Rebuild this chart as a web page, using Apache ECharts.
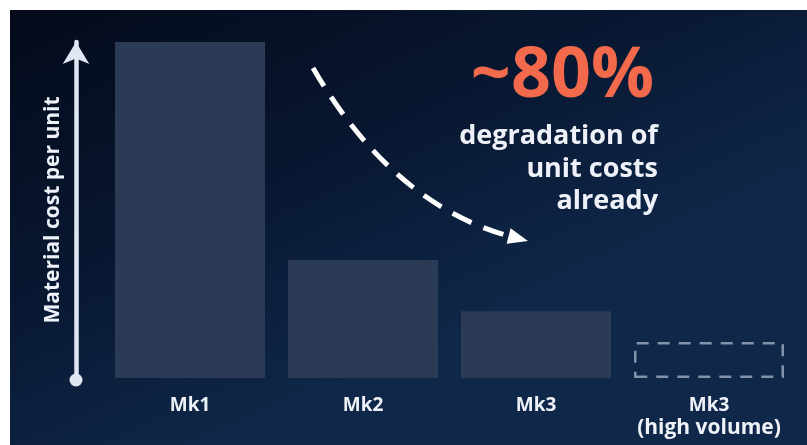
<!DOCTYPE html>
<html>
<head>
<meta charset="utf-8">
<script src="https://cdn.jsdelivr.net/npm/echarts@6/dist/echarts.min.js"></script>
<style>
html,body{margin:0;padding:0;background:#ffffff;}
#wrap{position:relative;width:807px;height:445px;background:#ffffff;}
#chart{position:absolute;left:10px;top:10px;width:797px;height:435px;}
</style>
</head>
<body>
<div id="wrap"><div id="chart"></div></div>
<script>
// Data
const categories = ['Mk1', 'Mk2', 'Mk3', 'Mk3\n(high volume)'];
const costValues = [100, 35.1, 19.9, 10.7];
const projectedIndex = 3; // dashed (projected) bar
const yAxisName = 'Material cost per unit';
const headline = '~80%';
const headlineLines = ['degradation of', 'unit costs', 'already'];

const FONT = '"Open Sans", "Noto Sans", sans-serif';
const chart = echarts.init(document.getElementById('chart'), null, {renderer: 'canvas'});

const barData = costValues.map((v, i) => i === projectedIndex ? {
  value: v,
  itemStyle: {color: 'rgba(0,0,0,0)', borderColor: '#8293ac', borderWidth: 2.5, borderType: [12, 9]}
} : v);

function fmtLabel(v) {
  const parts = v.split('\n');
  return parts.map((p, i) => (i === 0 ? '{a|' : '{b|') + p + '}').join('\n');
}

const option = {
  backgroundColor: new echarts.graphic.LinearGradient(0, 0, 0.25, 1, [
    {offset: 0, color: '#040a1a'},
    {offset: 0.55, color: '#081731'},
    {offset: 1, color: '#0f2748'}
  ]),
  animation: false,
  grid: {left: 93.5, right: 11.5, top: 32, bottom: 67},
  xAxis: {
    type: 'category',
    data: categories,
    axisLine: {show: false},
    axisTick: {show: false},
    axisLabel: {
      margin: 16,
      formatter: fmtLabel,
      rich: {
        a: {color: '#eef2f8', fontFamily: FONT, fontWeight: 'bold', fontSize: 19, lineHeight: 23},
        b: {color: '#eef2f8', fontFamily: FONT, fontWeight: 'bold', fontSize: 21, lineHeight: 23}
      }
    }
  },
  yAxis: {
    type: 'value', min: 0, max: 100,
    offset: 27.5,
    name: yAxisName,
    nameLocation: 'middle',
    nameGap: 12,
    nameRotate: 90,
    nameTextStyle: {color: '#eef2f8', fontFamily: FONT, fontWeight: 'bold', fontSize: 21},
    axisLine: {show: true, lineStyle: {color: '#dfe7f3', width: 4.5},
      symbol: ['none', 'arrow'], symbolSize: [20, 22], symbolOffset: [0, 0]},
    axisTick: {show: false},
    axisLabel: {show: false},
    splitLine: {show: false}
  },
  series: [{
    type: 'bar',
    data: barData,
    barWidth: 150,
    itemStyle: {color: '#2b3b55'},
    z: 2
  }]
};
chart.setOption(option);

// decorations (circle at axis origin, dashed curved arrow, headline text)
const origin = chart.convertToPixel({gridIndex: 0}, [0, 0]);
chart.setOption({
  graphic: [
    {type: 'circle', shape: {cx: 66, cy: origin[1] + 2, r: 6.5}, style: {fill: '#dfe7f3'}, z: 10},
    {type: 'bezierCurve', shape: {x1: 303, y1: 58, x2: 500, y2: 226.4, cpx1: 382, cpy1: 194},
      style: {stroke: '#ffffff', lineWidth: 5, fill: null, lineDash: [21, 13]}, z: 10},
    {type: 'polygon', shape: {points: [[518, 231], [496.6, 233.7], [500.6, 218.3]]},
      style: {fill: '#ffffff'}, z: 10},
    {type: 'text', x: 644, y: 67, style: {text: headline, fill: '#f26a4b', font: 'bold 70px ' + FONT,
      textAlign: 'right', textVerticalAlign: 'middle'}, z: 10},
    {type: 'text', x: 648, y: 126.6, style: {text: headlineLines[0], fill: '#eef2f8', font: 'bold 27px ' + FONT,
      textAlign: 'right', textVerticalAlign: 'middle'}, z: 10},
    {type: 'text', x: 648, y: 159.6, style: {text: headlineLines[1], fill: '#eef2f8', font: 'bold 27px ' + FONT,
      textAlign: 'right', textVerticalAlign: 'middle'}, z: 10},
    {type: 'text', x: 648, y: 191.6, style: {text: headlineLines[2], fill: '#eef2f8', font: 'bold 27px ' + FONT,
      textAlign: 'right', textVerticalAlign: 'middle'}, z: 10}
  ]
});
</script>
</body>
</html>
